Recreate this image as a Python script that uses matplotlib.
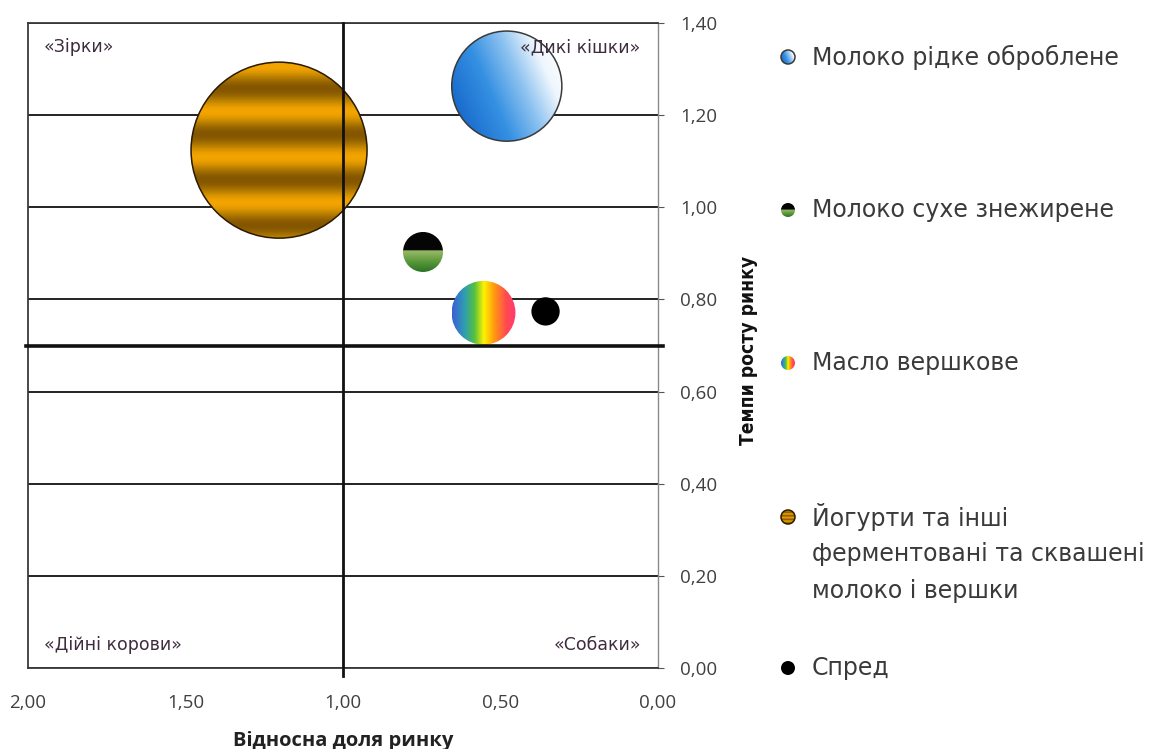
import numpy as np
import matplotlib.pyplot as plt
from matplotlib.patches import Ellipse
from matplotlib.colors import LinearSegmentedColormap

# BCG matrix for dairy products
products = ["Молоко рідке оброблене",
            "Молоко сухе знежирене",
            "Масло вершкове",
            "Йогурти та інші\nферментовані та сквашені\nмолоко і вершки",
            "Спред"]
fills = ["blue", "green", "rainbow", "stripes", "black"]
market_share = [0.48, 0.746, 0.554, 1.203, 0.357]
growth_rate = [1.263, 0.903, 0.771, 1.124, 0.774]
bubble_size = [30.3, 4.0, 10.2, 77.4, 2.0]

x_ticks = [2.0, 1.5, 1.0, 0.5, 0.0]
y_ticks = [0.0, 0.2, 0.4, 0.6, 0.8, 1.0, 1.2, 1.4]
quadrants = ["«Зірки»", "«Дикі кішки»", "«Дійні корови»", "«Собаки»"]
share_split = 1.0
growth_split = 0.7

W, H = 1158, 749
MAX_R = 88  # pixel radius of the biggest bubble


def fill_image(kind, n=240):
    u, v = np.meshgrid(np.linspace(0, 1, n), np.linspace(0, 1, n))
    if kind == "blue":
        t = np.clip(0.8 * u + 0.35 * (1 - v) - 0.08, 0, 1)
        cm = LinearSegmentedColormap.from_list(
            "b", [(0, "#1465c8"), (0.35, "#3590e2"), (0.6, "#8cc2f0"), (0.82, "#eef6fd"), (1, "#ffffff")])
        return cm(t)
    if kind == "green":
        cm = LinearSegmentedColormap.from_list("g", ["#9bbb6a", "#5c9a3c", "#2a7426"])
        img = cm(np.clip((v - 0.47) / 0.53, 0, 1))
        img[v < 0.47] = (0.02, 0.02, 0.02, 1)
        return img
    if kind == "rainbow":
        cm = LinearSegmentedColormap.from_list(
            "r", [(0, "#3a5fd8"), (0.2, "#2f9fb0"), (0.35, "#55c040"), (0.5, "#fff200"),
                  (0.66, "#ff9a10"), (0.85, "#ff4a50"), (1, "#ff3a70")])
        return cm(u)
    if kind == "stripes":
        cm = LinearSegmentedColormap.from_list("o", ["#f3a400", "#b77e00", "#845600"])
        t = 0.5 + 0.5 * np.cos(2 * np.pi * (v - 0.15) / 0.26)
        return cm(t)
    img = np.zeros((n, n, 4))
    img[..., 3] = 1
    return img


EDGES = {"blue": "#3a3a3a", "green": "none", "rainbow": "none", "stripes": "#2a1a00", "black": "none"}


def draw_bubble(ax, cx, cy, rx, ry, kind, z):
    patch = Ellipse((cx, cy), 2 * rx, 2 * ry, facecolor="none", edgecolor="none", zorder=z)
    ax.add_patch(patch)
    if ax.xaxis_inverted():
        extent = (cx + rx, cx - rx, cy - ry, cy + ry)
    else:
        extent = (cx - rx, cx + rx, cy + ry, cy - ry)
    im = ax.imshow(fill_image(kind), extent=extent, origin="upper", aspect="auto",
                   zorder=z, interpolation="bilinear")
    im.set_clip_path(patch)
    if EDGES[kind] != "none":
        ax.add_patch(Ellipse((cx, cy), 2 * rx, 2 * ry, facecolor="none",
                             edgecolor=EDGES[kind], lw=1.1, zorder=z + 0.1))


fig = plt.figure(figsize=(W / 100, H / 100), dpi=100)
ax = fig.add_axes([28 / W, 81 / H, 630 / W, 645 / H])
ax.set_xlim(2.0, 0.0)
ax.set_ylim(0.0, 1.4)

ax.set_xticks(x_ticks)
ax.set_xticklabels([f"{t:.2f}".replace(".", ",") for t in x_ticks],
                   family="Open Sans", fontsize=13.5, color="#404040")
ax.set_yticks(y_ticks)
ax.set_yticklabels([f"{t:.2f}".replace(".", ",") for t in y_ticks],
                   family="Open Sans", fontsize=13.5, color="#404040")
ax.yaxis.tick_right()
ax.tick_params(axis="x", length=0, pad=19)
ax.tick_params(axis="y", direction="out", length=4, color="#555555", pad=12)
ax.yaxis.grid(True, color="#222222", lw=1.4, zorder=1)
ax.set_axisbelow(True)
for side in ["left", "top", "bottom"]:
    ax.spines[side].set_color("#3a3a3a")
    ax.spines[side].set_linewidth(1.3)
ax.spines["right"].set_color("#8a8a8a")
ax.spines["right"].set_linewidth(1.0)

# quadrant dividers
ax.plot([share_split, share_split], [-0.018, 1.4], color="#111111", lw=2.0, zorder=6, clip_on=False)
ax.plot([2.005, -0.015], [growth_split, growth_split], color="#111111", lw=2.6, zorder=6, clip_on=False)

# bubbles, scaled by area
ppx = 2.0 / ax.bbox.width
ppy = 1.4 / ax.bbox.height
order = np.argsort(bubble_size)[::-1]
for i in order:
    r = MAX_R * np.sqrt(bubble_size[i] / max(bubble_size))
    draw_bubble(ax, market_share[i], growth_rate[i], r * ppx, r * ppy, fills[i], 3)

qstyle = dict(family="DejaVu Sans", fontsize=12.5, color="#3e2c3e", zorder=7)
ax.text(1.95, 1.347, quadrants[0], ha="left", va="center", **qstyle)
ax.text(0.055, 1.347, quadrants[1], ha="right", va="center", **qstyle)
ax.text(1.95, 0.05, quadrants[2], ha="left", va="center", **qstyle)
ax.text(0.055, 0.05, quadrants[3], ha="right", va="center", **qstyle)

fig.text(343 / W, 1 - 741 / H, "Відносна доля ринку", ha="center", va="center",
         family="Open Sans", fontweight="bold", fontsize=14.5, color="#222222")
fig.text(748 / W, 1 - 350 / H, "Темпи росту ринку", ha="center", va="center", rotation=90,
         family="DejaVu Sans", fontstretch="condensed", fontweight="bold", fontsize=13.8,
         color="#111111")

# legend drawn in figure pixel space
lax = fig.add_axes([0, 0, 1, 1])
lax.set_xlim(0, W)
lax.set_ylim(H, 0)
lax.axis("off")
legend_y = [57, 210, 363, 517, 668]
for i, y in enumerate(legend_y):
    draw_bubble(lax, 788, y, 7, 7, fills[i], 3)
    for k, line in enumerate(products[i].split("\n")):
        lax.text(812, y + k * 37, line, ha="left", va="center",
                 family="DejaVu Sans", fontsize=17, color="#3a3a3a")

fig.savefig("out.png", dpi=100)
